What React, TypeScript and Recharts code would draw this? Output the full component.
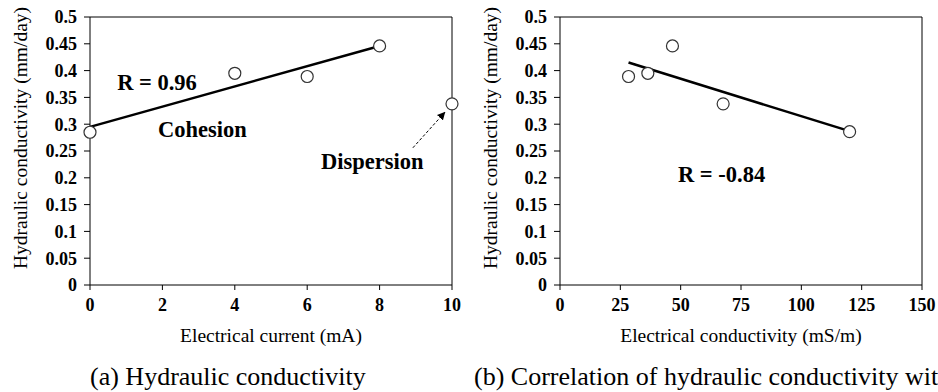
import React from "react"
import { ScatterChart, Scatter, XAxis, YAxis, ReferenceLine, ReferenceDot } from "recharts"

// (a) hydraulic conductivity vs electrical current
const currentX = [0, 4, 6, 8, 10]
const hydraulicA = [0.285, 0.395, 0.389, 0.446, 0.338]
const trendAX = [0, 8]
const trendAY = [0.295, 0.446]
const currentTicks = [0, 2, 4, 6, 8, 10]

// (b) hydraulic conductivity vs electrical conductivity
const conductX = [28.4, 36.4, 46.6, 67.6, 120]
const hydraulicB = [0.389, 0.395, 0.446, 0.338, 0.286]
const trendBX = [28.4, 120]
const trendBY = [0.415, 0.287]
const conductTicks = [0, 25, 50, 75, 100, 125, 150]

const hcTicks = [0, 0.05, 0.1, 0.15, 0.2, 0.25, 0.3, 0.35, 0.4, 0.45, 0.5]

const serif = "Liberation Serif"

const toPoints = (xs: number[], ys: number[]) => xs.map((x, i) => ({ x, y: ys[i] }))

const Circle = (p: any) => <circle cx={p.cx} cy={p.cy} r={6} fill="#fff" stroke="#333" strokeWidth={1.2} />
const NoShape = () => <g />

const tickStyle = { fill: "#000", fontSize: 18, fontWeight: 700, fontFamily: serif }
const noteStyle = { fill: "#000", fontSize: 22.5, fontWeight: 700, fontFamily: serif }

function yLabel() {
  return {
    value: "Hydraulic conductivity (mm/day)",
    angle: -90,
    position: "center" as const,
    dx: -40,
    dy: -13,
    style: { fill: "#000", fontSize: 19.5, fontFamily: serif },
  }
}

function Panel({
  width,
  xs,
  ys,
  tx,
  ty,
  ticks,
  xMax,
  xTitle,
  children,
}: {
  width: number
  xs: number[]
  ys: number[]
  tx: number[]
  ty: number[]
  ticks: number[]
  xMax: number
  xTitle: string
  children?: React.ReactNode
}) {
  return (
    <ScatterChart
      width={width}
      height={348}
      style={{ fontFamily: serif }}
      margin={{ top: 17, right: width - 452, left: 30, bottom: 3 }}
    >
      <XAxis
        type="number"
        dataKey="x"
        domain={[0, xMax]}
        ticks={ticks}
        stroke="#000"
        tickSize={5}
        tickMargin={8}
        height={60}
        tick={tickStyle}
        label={{
          value: xTitle,
          position: "insideBottom",
          offset: 3,
          style: { fill: "#000", fontSize: 19.5, fontFamily: serif },
        }}
      />
      <YAxis
        type="number"
        dataKey="y"
        domain={[0, 0.5]}
        ticks={hcTicks}
        stroke="#000"
        tickSize={6}
        tickMargin={7}
        width={60}
        tick={tickStyle}
        label={yLabel()}
      />
      <ReferenceLine y={0.5} stroke="#000" strokeWidth={1} />
      <ReferenceLine x={xMax} stroke="#000" strokeWidth={1} />
      <Scatter
        data={toPoints(tx, ty)}
        line={{ stroke: "#000", strokeWidth: 2.5 }}
        shape={NoShape}
        isAnimationActive={false}
      />
      <Scatter data={toPoints(xs, ys)} shape={Circle} isAnimationActive={false} />
      {children}
    </ScatterChart>
  )
}

export default function App() {
  return (
    <div
      style={{
        position: "absolute",
        left: 0,
        top: 0,
        width: 938,
        height: 392,
        background: "#fff",
        overflow: "hidden",
        fontFamily: serif,
      }}
    >
      <svg width={0} height={0} style={{ position: "absolute" }}>
        <defs>
          <marker id="arrowHead" viewBox="0 0 10 10" refX="9" refY="5" markerWidth="8" markerHeight="8" orient="auto">
            <path d="M0,0 L10,5 L0,10 z" fill="#000" />
          </marker>
        </defs>
      </svg>
      <div style={{ position: "absolute", left: 0, top: 0 }}>
        <Panel
          width={470}
          xs={currentX}
          ys={hydraulicA}
          tx={trendAX}
          ty={trendAY}
          ticks={currentTicks}
          xMax={10}
          xTitle="Electrical current (mA)"
        >
          <ReferenceDot x={0.75} y={0.379} r={0} stroke="none" label={{ value: "R = 0.96", position: "right", offset: 0, style: noteStyle }} />
          <ReferenceDot x={1.88} y={0.291} r={0} stroke="none" label={{ value: "Cohesion", position: "right", offset: 0, style: noteStyle }} />
          <ReferenceDot x={6.38} y={0.231} r={0} stroke="none" label={{ value: "Dispersion", position: "right", offset: 0, style: noteStyle }} />
          <ReferenceLine
            segment={[
              { x: 8.92, y: 0.256 },
              { x: 9.8, y: 0.322 },
            ]}
            shape={(p: any) => (
              <line x1={p.x1} y1={p.y1} x2={p.x2} y2={p.y2} stroke="#000" strokeWidth={1} strokeDasharray="3 2" markerEnd="url(#arrowHead)" />
            )}
          />
        </Panel>
      </div>
      <div style={{ position: "absolute", left: 470, top: 0 }}>
        <Panel
          width={468}
          xs={conductX}
          ys={hydraulicB}
          tx={trendBX}
          ty={trendBY}
          ticks={conductTicks}
          xMax={150}
          xTitle="Electrical conductivity (mS/m)"
        >
          <ReferenceDot x={48.9} y={0.207} r={0} stroke="none" label={{ value: "R = -0.84", position: "right", offset: 0, style: noteStyle }} />
        </Panel>
      </div>
      <div style={{ position: "absolute", left: 90, top: 362, fontSize: 26, whiteSpace: "nowrap", color: "#000" }}>
        (a) Hydraulic conductivity
      </div>
      <div style={{ position: "absolute", left: 474, top: 362, fontSize: 26, whiteSpace: "nowrap", color: "#000" }}>
        (b) Correlation of hydraulic conductivity with electrical conductivity
      </div>
    </div>
  )
}
